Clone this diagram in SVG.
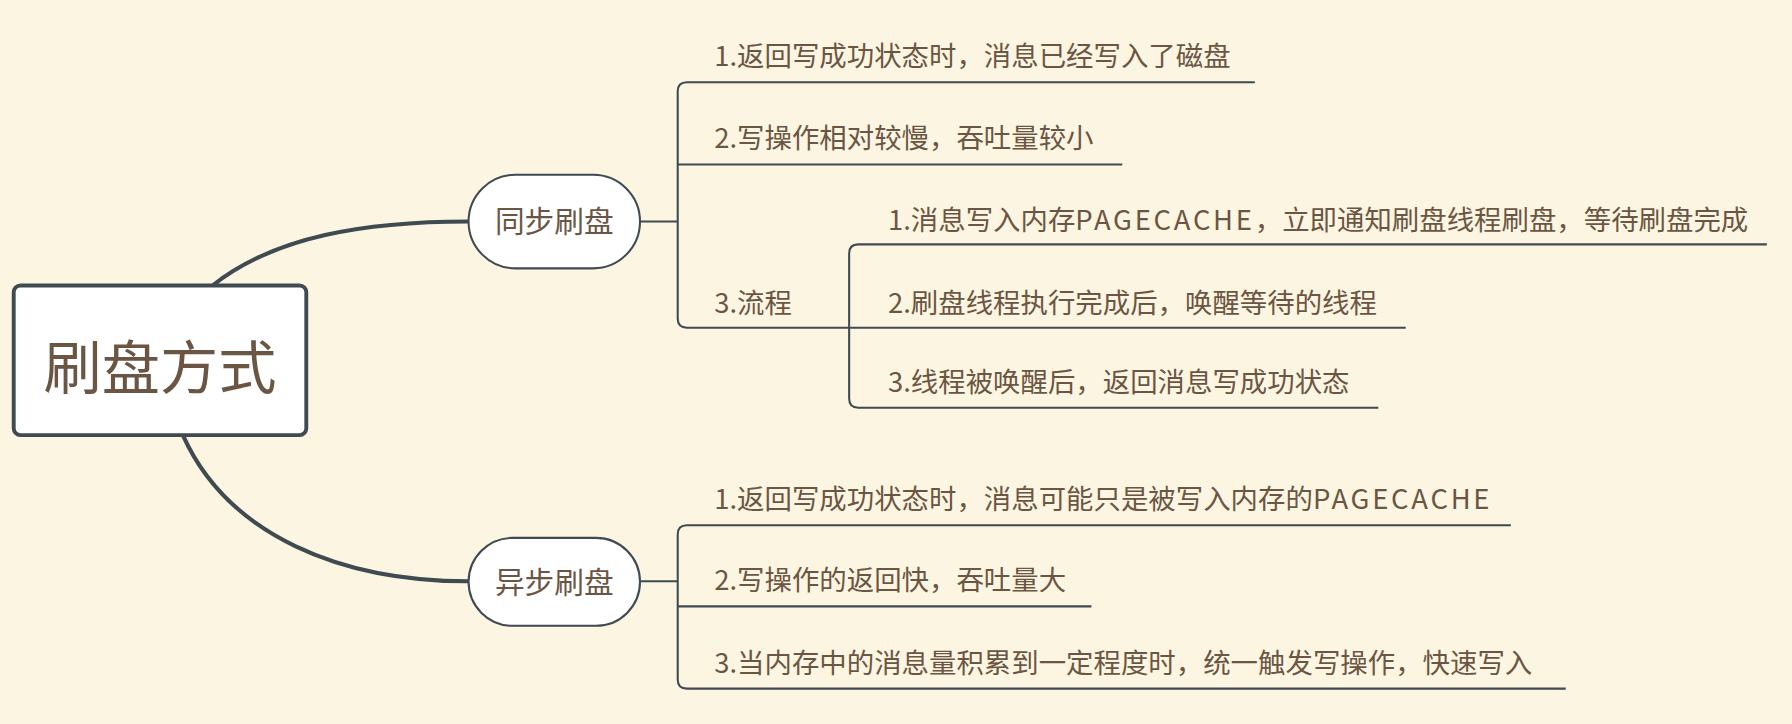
<svg xmlns="http://www.w3.org/2000/svg" width="1792" height="724" viewBox="0 0 1792 724">
<style>
.t{font-family:"Noto Sans CJK SC","Noto Sans",sans-serif;fill:#6b5644}
.leaf{font-size:24px}
.lat{letter-spacing:2.4px}
.br{fill:none;stroke:#3f4a51;stroke-width:1.8}
.main{fill:none;stroke:#3f4a51;stroke-width:3.6;stroke-linecap:round}
.node{fill:#ffffff;stroke:#3f4a51;stroke-width:1.8}
</style>
<rect width="1792" height="724" fill="#fcf5e1"/>
<g transform="scale(1.142857,1.14196)">
<g id="connectors">
<path class="main" d="M186 250 C240 207 320 194 410 194"/>
<path class="main" d="M160 381 C200 470 300 509 410 509"/>
<path class="br" d="M560 194 H593"/>
<path class="br" d="M1098 72 H601 Q593 72 593 80 V279 Q593 287 601 287 H743"/>
<path class="br" d="M593 144 H982"/>
<path class="br" d="M1546 214 H751 Q743 214 743 222 V349 Q743 357 751 357 H1206"/>
<path class="br" d="M743 287 H1230"/>
<path class="br" d="M560 509 H593"/>
<path class="br" d="M1322 460 H601 Q593 460 593 468 V595 Q593 603 601 603 H1370"/>
<path class="br" d="M593 531 H955"/>
</g>
<g id="root">
<rect x="12" y="250" width="256" height="131" rx="6" fill="#ffffff" stroke="#3f4a51" stroke-width="3.4"/>
<text class="t" x="140" y="341" font-size="51" text-anchor="middle">刷盘方式</text>
</g>
<g id="sync">
<rect class="node" x="410" y="153" width="150" height="82" rx="41"/>
<text class="t" x="485" y="203" font-size="26" text-anchor="middle">同步刷盘</text>
</g>
<g id="async">
<rect class="node" x="410" y="471" width="150" height="77" rx="38.5"/>
<text class="t" x="485" y="519" font-size="26" text-anchor="middle">异步刷盘</text>
</g>
<g id="sync-1"><text class="t leaf" x="625" y="58">1.返回写成功状态时，消息已经写入了磁盘</text></g>
<g id="sync-2"><text class="t leaf" x="625" y="130">2.写操作相对较慢，吞吐量较小</text></g>
<g id="sync-3"><text class="t leaf" x="625" y="274">3.流程</text></g>
<g id="flow-1"><text class="t leaf" x="777" y="201">1.消息写入内存<tspan class="lat">PAGECACHE</tspan>，立即通知刷盘线程刷盘，等待刷盘完成</text></g>
<g id="flow-2"><text class="t leaf" x="777" y="274">2.刷盘线程执行完成后，唤醒等待的线程</text></g>
<g id="flow-3"><text class="t leaf" x="777" y="343">3.线程被唤醒后，返回消息写成功状态</text></g>
<g id="async-1"><text class="t leaf" x="625" y="446">1.返回写成功状态时，消息可能只是被写入内存的<tspan class="lat">PAGECACHE</tspan></text></g>
<g id="async-2"><text class="t leaf" x="625" y="517">2.写操作的返回快，吞吐量大</text></g>
<g id="async-3"><text class="t leaf" x="625" y="589">3.当内存中的消息量积累到一定程度时，统一触发写操作，快速写入</text></g>
</g>
</svg>
